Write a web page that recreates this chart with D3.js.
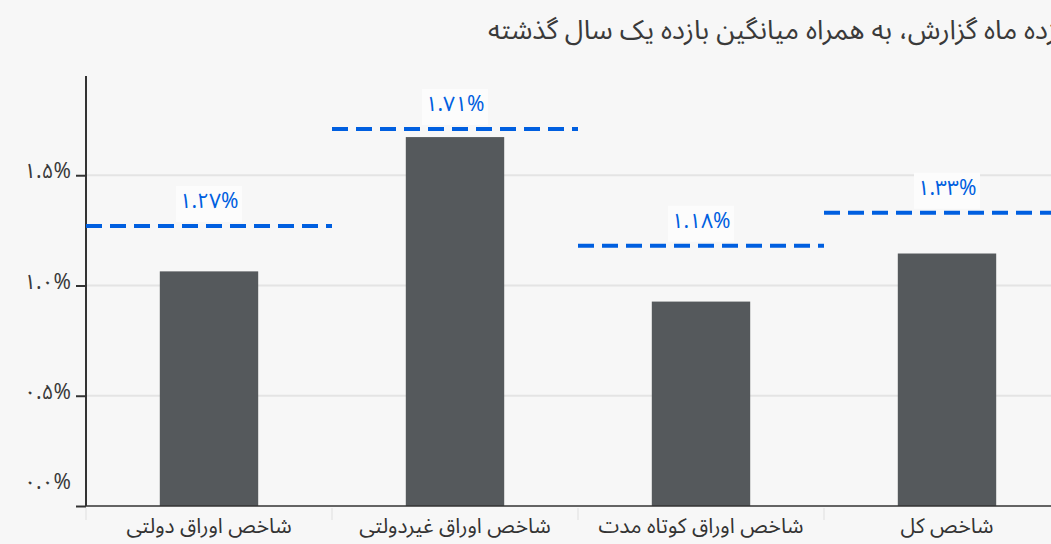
<!DOCTYPE html>
<html lang="fa">
<head>
<meta charset="utf-8">
<script src="https://cdn.jsdelivr.net/npm/d3@7"></script>
<style>
  html, body { margin: 0; padding: 0; background: #f7f7f7; }
  svg { display: block; font-family: "Noto Sans Arabic", "Vazirmatn", "DejaVu Sans", "Noto Sans", sans-serif; }
</style>
</head>
<body>
<svg id="chart" width="1051" height="544"></svg>
<script>
// Categories (index names) and values in percent
const categories = ["شاخص اوراق دولتی", "شاخص اوراق غیردولتی", "شاخص اوراق کوتاه مدت", "شاخص کل"];
const monthReturn = [1.064, 1.673, 0.927, 1.145];   // bars: return of the reporting month
const yearAverage = [1.27, 1.71, 1.18, 1.33];        // dashed: one-year average return
const yTicks = [0, 0.5, 1.0, 1.5];
const titleText = "بازده ماه گزارش، به همراه میانگین بازده یک سال گذشته";

const faDigits = "۰۱۲۳۴۵۶۷۸۹";
const toFa = s => String(s).replace(/[0-9]/g, d => faDigits[+d]);
const fmtTick = v => toFa(v.toFixed(1)) + "%";
const fmtAvg = v => toFa(v.toFixed(2)) + "%";

const svg = d3.select("#chart");
const W = 1051, H = 544;
const margin = { left: 86, top: 76 };
const plotRight = 1070;
const y0 = 506;

svg.append("rect").attr("width", W).attr("height", H).attr("fill", "#f7f7f7");

const x = d3.scaleBand().domain(categories).range([margin.left, plotRight])
  .paddingInner(0.6).paddingOuter(0.3);
const xFull = d3.scaleBand().domain(categories).range([margin.left, plotRight]).padding(0);
const y = d3.scaleLinear().domain([0, 1.95]).range([y0, margin.top]);

// Title
svg.append("text")
  .attr("x", 488).attr("y", 39)
  .attr("text-anchor", "start")
  .attr("font-size", 27)
  .attr("fill", "#3a3a3a")
  .text(titleText);

// Horizontal gridlines
svg.append("g").selectAll("line").data(yTicks.filter(t => t > 0)).join("line")
  .attr("x1", margin.left).attr("x2", W)
  .attr("y1", d => y(d)).attr("y2", d => y(d))
  .attr("stroke", "#e4e4e4").attr("stroke-width", 2);

// Bars
svg.append("g").selectAll("rect").data(categories).join("rect")
  .attr("x", d => x(d))
  .attr("width", x.bandwidth())
  .attr("y", (d, i) => y(monthReturn[i]))
  .attr("height", (d, i) => y(0) - y(monthReturn[i]))
  .attr("fill", "#55595c");

// Y axis
const yAxis = svg.append("g")
  .attr("transform", `translate(${margin.left},0)`)
  .call(d3.axisLeft(y).tickValues(yTicks).tickFormat(fmtTick).tickSize(10).tickPadding(5));
yAxis.select(".domain").attr("stroke", "#333").attr("stroke-width", 2)
  .attr("d", `M0,${margin.top}V${y0}`);
yAxis.selectAll(".tick line").attr("stroke", "#333").attr("stroke-width", 2);
yAxis.selectAll(".tick text")
  .attr("font-size", 21).attr("fill", "#3a3a3a")
  .attr("font-family", "\"Noto Sans Arabic\", \"DejaVu Sans\", sans-serif")
  .attr("dy", d => d === 0 ? "-0.85em" : "0.12em");

// X axis
const xAxis = svg.append("g")
  .attr("transform", `translate(0,${y0})`)
  .call(d3.axisBottom(x).tickSize(0).tickPadding(12));
xAxis.select(".domain").attr("stroke", "#333").attr("stroke-width", 1.5)
  .attr("d", `M${margin.left},0H${plotRight}`);
xAxis.selectAll(".tick text")
  .attr("font-size", 21).attr("fill", "#333")
  .attr("font-family", "\"Noto Sans Arabic\", \"DejaVu Sans\", sans-serif");

// Faint band boundary ticks under the x axis
const bounds = categories.map(c => xFull(c)).concat([xFull(categories[categories.length - 1]) + xFull.bandwidth()]);
svg.append("g").selectAll("line").data(bounds).join("line")
  .attr("x1", d => d).attr("x2", d => d)
  .attr("y1", y0 + 2).attr("y2", y0 + 14)
  .attr("stroke", "#ebebeb").attr("stroke-width", 2);

// One-year average: dashed line across each band, with value label
const avg = svg.append("g");
avg.selectAll("line").data(categories).join("line")
  .attr("x1", d => xFull(d))
  .attr("x2", d => xFull(d) + xFull.bandwidth())
  .attr("y1", (d, i) => y(yearAverage[i]))
  .attr("y2", (d, i) => y(yearAverage[i]))
  .attr("stroke", "#005fe0").attr("stroke-width", 4)
  .attr("stroke-dasharray", "16 8");

const labels = avg.selectAll("g.lbl").data(categories).join("g")
  .attr("class", "lbl")
  .attr("transform", (d, i) => `translate(${x(d) + x.bandwidth() / 2},${y(yearAverage[i])})`);
labels.append("rect")
  .attr("x", -33).attr("y", -40).attr("width", 66).attr("height", 36)
  .attr("fill", "#fcfcfc");
labels.append("text")
  .attr("text-anchor", "middle")
  .attr("y", -18)
  .attr("font-size", 21)
  .attr("fill", "#005fe0")
  .text((d, i) => fmtAvg(yearAverage[i]));
</script>
</body>
</html>
